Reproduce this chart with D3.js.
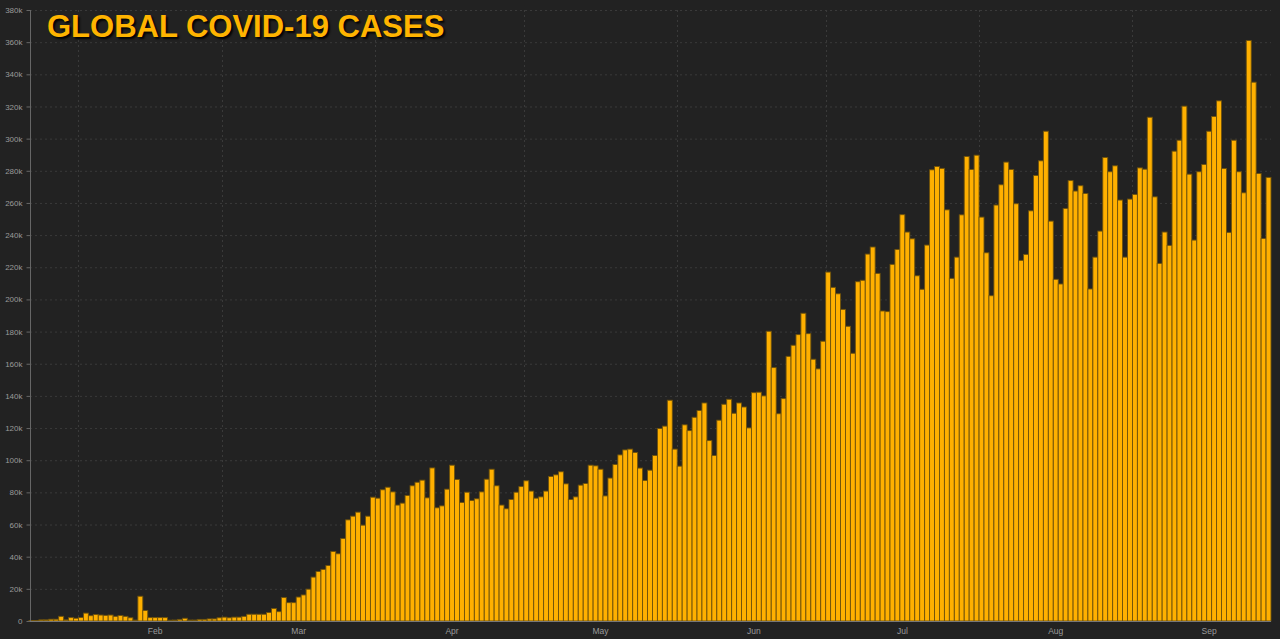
<!DOCTYPE html>
<html>
<head>
<meta charset="utf-8">
<script src="https://cdn.jsdelivr.net/npm/d3@7"></script>
<style>
  body { margin: 0; background: #222222; }
  svg { display: block; }
</style>
</head>
<body>
<div id="chart"></div>
<script>
// daily new cases, one value per day starting at startDate
var startDate = "2020-01-22";

var dailyCases = [
    300, 300, 700, 700, 1100, 1100, 2900, 700, 2100, 1700,
    2200, 4900, 3300, 4000, 3700, 3500, 3700, 2900, 3400, 2900,
    2000, 600, 15400, 6500, 2100, 2100, 2100, 2100, 500, 600,
    1000, 1700, 600, 600, 1000, 1000, 1300, 1300, 2000, 2400,
    2000, 2400, 2400, 2900, 4200, 4200, 4200, 4200, 5300, 7800,
    5800, 14600, 11400, 11400, 14900, 16200, 19800, 27300, 30800, 32100,
    34500, 43200, 41800, 51300, 62900, 65200, 67700, 59600, 65200, 77000,
    76400, 81600, 83200, 80300, 72100, 73300, 78100, 84100, 86300, 87600,
    76600, 95200, 70400, 71600, 82000, 96900, 88000, 73700, 80100, 74900,
    76000, 80300, 88200, 94400, 84100, 72100, 69800, 75600, 80100, 83600,
    87200, 80800, 76400, 77200, 80800, 89900, 90900, 92800, 85300, 75600,
    77200, 84500, 85500, 96900, 96500, 94400, 77800, 88900, 97300, 103300,
    106400, 106900, 104800, 95100, 87400, 93800, 102900, 119700, 121200, 137300,
    106900, 96300, 122000, 118400, 126700, 130900, 135600, 112200, 102900, 124900,
    134800, 137900, 129200, 135600, 133100, 120100, 142000, 142300, 140000, 180200,
    157600, 128900, 138300, 164600, 171500, 178100, 191400, 178700, 162800, 156800,
    174000, 217000, 207500, 203500, 193800, 183300, 166500, 211000, 211900, 228200,
    232600, 216200, 192800, 192400, 221800, 231100, 252700, 241900, 237700, 214700,
    206300, 233800, 280600, 282700, 281500, 255700, 213100, 226300, 252600, 288900,
    280800, 289700, 251200, 229000, 202300, 258700, 271300, 285400, 280800, 259500,
    224300, 228000, 255100, 277100, 286200, 304600, 248700, 212500, 209600, 256600,
    273900, 267400, 270700, 265900, 206500, 226300, 242500, 288300, 279400, 283100,
    261800, 226300, 262400, 265300, 281800, 281000, 313300, 263800, 222400, 241900,
    233600, 292200, 299000, 320200, 277900, 236900, 279400, 283900, 304600, 313800,
    323500, 281400, 241700, 299000, 279400, 266300, 361000, 335100, 278300, 237900,
    275900
];

var yTickValues = [0, 20000, 40000, 60000, 80000, 100000, 120000, 140000, 160000, 180000,
    200000, 220000, 240000, 260000, 280000, 300000, 320000, 340000, 360000, 380000];

var monthStarts = ["2020-02-01", "2020-03-01", "2020-04-01", "2020-05-01",
    "2020-06-01", "2020-07-01", "2020-08-01", "2020-09-01"];
var monthLabels = ["Feb", "Mar", "Apr", "May", "Jun", "Jul", "Aug", "Sep"];

var width = 1280,
    height = 639,
    title = "GLOBAL COVID-19 CASES",
    barColor = "#ffb000",
    gridColor = "#3a3a3a",
    textColor = "#9a9a9a";

var parse = d3.utcParse("%Y-%m-%d");
var start = parse(startDate);
var end = d3.utcDay.offset(start, dailyCases.length);

var data = dailyCases.map(function(v, i) {
    return { date: d3.utcDay.offset(start, i), value: v };
});
var months = monthStarts.map(parse);

var x = d3.scaleUtc().domain([start, end]).range([29, 1271]);
var y = d3.scaleLinear().domain([0, 380000]).range([621, 10]);

var svg = d3.select("#chart").append("svg")
    .attr("width", width)
    .attr("height", height);

svg.append("rect")
    .attr("width", width)
    .attr("height", height)
    .attr("fill", "#222222");

// horizontal grid
svg.append("g").selectAll("line")
    .data(yTickValues.slice(1))
    .enter().append("line")
    .attr("x1", 30).attr("x2", x(end))
    .attr("y1", function(d) { return y(d) + 0.5; })
    .attr("y2", function(d) { return y(d) + 0.5; })
    .attr("stroke", gridColor)
    .attr("stroke-dasharray", "2,3");

// vertical grid at month starts (with a small tick under the baseline)
svg.append("g").selectAll("line")
    .data(months)
    .enter().append("line")
    .attr("x1", function(d) { return Math.round(x(d)) + 0.5; })
    .attr("x2", function(d) { return Math.round(x(d)) + 0.5; })
    .attr("y1", y(380000))
    .attr("y2", y(0) + 4)
    .attr("stroke", gridColor)
    .attr("stroke-dasharray", "2,3");

// title sits on a plain box that hides the grid behind it
svg.append("rect")
    .attr("x", 46).attr("y", 12)
    .attr("width", 406).attr("height", 28)
    .attr("fill", "#222222");

svg.append("text")
    .attr("x", 47)
    .attr("y", 37)
    .text(title)
    .style("font-family", "'Liberation Sans', Arial, sans-serif")
    .style("font-weight", "bold")
    .style("font-size", "31px")
    .style("fill", "#ffb400")
    .style("text-shadow", "2px 2px 2px rgba(0,0,0,0.9)");

// bars
svg.append("g").selectAll("rect")
    .data(data)
    .enter().append("rect")
    .attr("x", function(d) { return x(d.date); })
    .attr("width", function(d) { return x(d3.utcDay.offset(d.date, 1)) - x(d.date); })
    .attr("y", function(d) { return y(d.value); })
    .attr("height", function(d) { return y(0) - y(d.value); })
    .attr("fill", barColor)
    .attr("stroke", "#6e520c")
    .attr("stroke-width", 0.9);

// y axis
var yAxis = d3.axisLeft(y)
    .tickValues(yTickValues)
    .tickSize(4)
    .tickPadding(4)
    .tickFormat(function(d) { return d === 0 ? "0" : (d / 1000) + "k"; });

var yG = svg.append("g")
    .attr("transform", "translate(30.5,0)")
    .call(yAxis);
yG.select(".domain").attr("stroke", "#666").attr("d", "M0," + y(380000) + "V" + y(0));
yG.selectAll(".tick line").attr("stroke", "#666");
yG.selectAll("text")
    .style("font-family", "'Liberation Sans', Arial, sans-serif")
    .style("font-size", "8px")
    .attr("fill", textColor);

// x baseline
svg.append("line")
    .attr("x1", 30).attr("x2", x(end))
    .attr("y1", y(0) + 0.5).attr("y2", y(0) + 0.5)
    .attr("stroke", "#777");

// month labels, centred in each month
svg.append("g").selectAll("text")
    .data(months)
    .enter().append("text")
    .attr("x", function(d) { return x(d3.utcHour.offset(d, 15 * 24 + 12)); })
    .attr("y", 634)
    .attr("text-anchor", "middle")
    .text(function(d, i) { return monthLabels[i]; })
    .style("font-family", "'Liberation Sans', Arial, sans-serif")
    .style("font-size", "8.5px")
    .style("fill", textColor);
</script>
</body>
</html>
